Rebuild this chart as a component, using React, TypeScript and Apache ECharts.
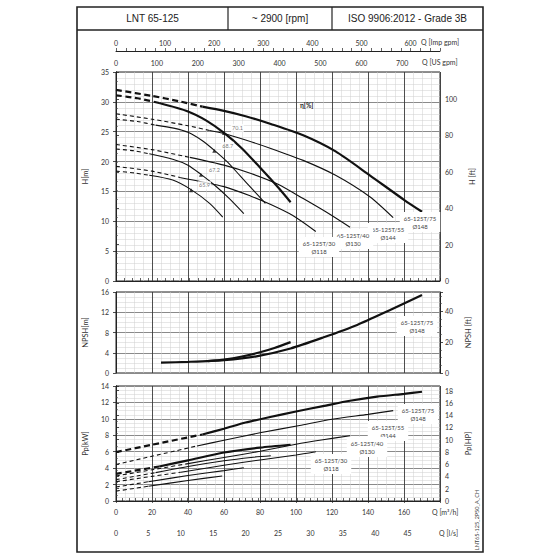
import React, { useEffect, useRef } from 'react';
import * as echarts from 'echarts';

// unit conversions (from m³/h, m, kW)
const M3H_TO_USGPM = 4.402868;
const M3H_TO_IMPGPM = 3.666154;
const M3H_TO_LS = 1 / 3.6;
const M_TO_FT = 3.28084;
const KW_TO_HP = 1.34102;
const Q_MAX = 180;

const headerTexts = ['LNT 65-125', '~ 2900 [rpm]', 'ISO 9906:2012 - Grade 3B'];
const models = ['65-125T/75', '65-125T/55', '65-125T/40', '65-125T/30'];
const diameters = ['Ø148', 'Ø144', 'Ø130', 'Ø118'];

// Head H [m] vs Q [m³/h] — long curves
const h148L_dash = [[0, 32.0], [20, 31.0], [35, 30.1], [48, 29.2]];
const h148L = [[48, 29.2], [60, 28.5], [72, 27.6], [86, 26.3], [104, 24.4], [122, 21.7], [141, 17.7], [160, 13.6], [170, 11.6]];
const h144L_dash = [[0, 28.0], [20, 27.1], [40, 26.0], [52, 25.2]];
const h144L = [[52, 25.2], [60, 24.7], [72, 23.6], [86, 22.2], [104, 20.2], [122, 17.7], [141, 14.1], [154, 10.6]];
const h130L_dash = [[0, 22.85], [20, 22.0], [41, 20.7]];
const h130L = [[41, 20.7], [60, 19.4], [75, 18.0], [90, 16.2], [104, 13.8], [117, 11.5], [130, 9.0]];
const h118L_dash = [[0, 19.2], [20, 18.4], [36, 17.3]];
const h118L = [[36, 17.3], [60, 15.8], [75, 14.2], [86, 12.8], [98, 11.0], [111, 8.3]];
// Head — short curves
const h148S_dash = [[0, 31.1], [12, 30.6], [24, 29.8]];
const h148S = [[24, 29.8], [40, 28.4], [50, 26.9], [60, 24.8], [70, 22.2], [80, 19.0], [90, 15.7], [97, 13.2]];
const h144S_dash = [[0, 27.1], [12, 26.7], [22, 26.1]];
const h144S = [[22, 26.1], [32, 25.6], [40, 24.9], [48, 23.5], [55, 21.8], [62, 19.9], [69, 17.6], [76, 15.3], [83, 13.0]];
const h130S_dash = [[0, 22.1], [10, 21.8], [18.5, 21.3]];
const h130S = [[18.5, 21.3], [31.5, 20.4], [40, 19.4], [47, 17.9], [55, 16.0], [63, 13.8], [71, 11.3]];
const h118S_dash = [[0, 18.4], [10, 18.1], [18.5, 17.7]];
const h118S = [[18.5, 17.7], [31.5, 16.9], [41.7, 15.3], [52, 13.0], [59.3, 10.7]];

// efficiency points (on short curves)
const effPoints = [[60, 24.8], [54.6, 21.8], [47.2, 17.8], [41.7, 15.2]];
const effValues = ['70.1', '68.7', '67.2', '65.9'];

// NPSH [m]
const npshL = [[25, 2.05], [40, 2.2], [60, 2.55], [78, 3.3], [97, 4.85], [115, 7.0], [134, 9.5], [152, 12.4], [170, 15.4]];
const npshS = [[51, 2.35], [60, 2.65], [70, 3.25], [80, 4.1], [88, 4.95], [97, 6.1]];

// Power Pp [kW]
const p148L_dash = [[0, 5.95], [20, 6.85], [48, 8.1]];
const p148L = [[48, 8.1], [60, 8.8], [72, 9.55], [85, 10.2], [100, 10.9], [115, 11.55], [130, 12.2], [145, 12.7], [160, 13.05], [170, 13.3]];
const p144L_dash = [[0, 4.45], [20, 5.45], [45, 6.7]];
const p144L = [[45, 6.7], [60, 7.4], [80, 8.3], [102, 9.2], [120, 9.95], [140, 10.55], [154, 11.0]];
const p130L_dash = [[0, 3.05], [20, 3.8], [40, 4.55]];
const p130L = [[40, 4.55], [60, 5.3], [80, 6.05], [100, 6.9], [115, 7.45], [130, 7.95]];
const p118L_dash = [[0, 2.35], [20, 3.0], [36, 3.5]];
const p118L = [[36, 3.5], [60, 4.35], [80, 5.0], [100, 5.6], [111, 6.0]];
const p148S_dash = [[0, 3.3], [12, 3.75], [24, 4.2]];
const p148S = [[24, 4.2], [40, 4.95], [60, 5.9], [80, 6.5], [97, 6.85]];
const p144S_dash = [[0, 2.6], [22, 3.45]];
const p144S = [[22, 3.45], [40, 4.2], [60, 4.9], [75, 5.3], [86, 5.5]];
const p130S_dash = [[0, 1.7], [18, 2.35]];
const p130S = [[18, 2.35], [40, 3.1], [60, 3.7], [71, 4.05]];
const p118S_dash = [[0, 1.2], [18, 1.8]];
const p118S = [[18, 1.8], [40, 2.5], [59, 3.05]];

const FONT = 'Lato, "Open Sans", sans-serif';
const INK = '#111';

const vMajor = { show: true, lineStyle: { color: '#3a3a3a', width: 0.9 } };
const hMajor = { show: true, lineStyle: { color: '#8a8a8a', width: 1.2 } };
const minorLine = { show: true, lineStyle: { color: '#cfcfcf', width: 0.5 } };
const axisLineStyle = { show: true, lineStyle: { color: '#222', width: 1 } };
const lbl = { fontSize: 7, color: '#333', fontFamily: FONT };

function curve(data: number[][], xi: number, yi: number, thick: boolean, dashed: boolean) {
  return {
    type: 'line',
    xAxisIndex: xi,
    yAxisIndex: yi,
    data,
    symbol: 'none',
    smooth: 0.25,
    silent: true,
    z: 5,
    lineStyle: {
      color: INK,
      width: thick ? 2.2 : 1.1,
      type: dashed ? (thick ? [6, 3.5] : [4, 3]) : 'solid',
      cap: 'butt',
    },
  };
}

const isMult = (v: number, m: number) => Math.abs(v / m - Math.round(v / m)) < 1e-6;

function qAxisHidden(gridIndex: number) {
  return {
    gridIndex,
    type: 'value',
    min: 0,
    max: Q_MAX,
    interval: 20,
    axisLine: { show: false },
    axisTick: { show: false },
    axisLabel: { show: false },
    splitLine: vMajor,
    minorTick: { show: false, splitNumber: 4 },
    minorSplitLine: minorLine,
  };
}

function leftY(gridIndex: number, max: number, interval: number, minorSplit: number, name: string) {
  return {
    gridIndex,
    type: 'value',
    position: 'left',
    min: 0,
    max,
    interval,
    name,
    nameLocation: 'middle',
    nameGap: 19,
    nameTextStyle: { fontSize: 7.5, color: '#333', fontFamily: FONT },
    axisLine: axisLineStyle,
    axisTick: { show: true, length: 3, lineStyle: { color: '#222', width: 0.8 } },
    axisLabel: { ...lbl, margin: 7 },
    splitLine: hMajor,
    minorTick: { show: false, splitNumber: minorSplit },
    minorSplitLine: minorLine,
  };
}

function rightY(gridIndex: number, max: number, interval: number, labelStep: number, minorSplit: number, name: string) {
  return {
    gridIndex,
    type: 'value',
    position: 'right',
    min: 0,
    max,
    interval,
    name,
    nameLocation: 'middle',
    nameGap: 17,
    nameTextStyle: { fontSize: 7.5, color: '#333', fontFamily: FONT },
    axisLine: axisLineStyle,
    axisTick: { show: true, length: 3, lineStyle: { color: '#222', width: 0.8 } },
    minorTick: { show: true, splitNumber: minorSplit, length: 2, lineStyle: { color: '#444', width: 0.6 } },
    axisLabel: { ...lbl, margin: 5, formatter: (v: number) => (isMult(v, labelStep) ? String(Math.round(v)) : '') },
    splitLine: { show: false },
  };
}

function labelBox(x: number, y: number, text: string) {
  return {
    type: 'text',
    x,
    y,
    z: 100,
    style: {
      text,
      fontSize: 6,
      lineHeight: 8,
      fontFamily: FONT,
      fill: '#444',
      align: 'center',
      verticalAlign: 'middle',
      backgroundColor: '#ffffff',
      padding: [2, 4],
    },
  };
}

function plainText(x: number, y: number, text: string, extra: any = {}) {
  return {
    type: 'text',
    x,
    y,
    z: 100,
    style: { text, fontSize: 7, fontFamily: FONT, fill: '#333', align: 'left', verticalAlign: 'middle', ...extra },
  };
}

export default function App() {
  const ref = useRef<HTMLDivElement>(null);

  useEffect(() => {
    if (!ref.current) return;
    const chart = echarts.init(ref.current, null, { renderer: 'svg' });

    const gridStyle = { show: true, borderColor: '#222', borderWidth: 1, backgroundColor: 'transparent' };

    const series: any[] = [
      // H long
      curve(h148L_dash, 0, 0, true, true), curve(h148L, 0, 0, true, false),
      curve(h144L_dash, 0, 0, false, true), curve(h144L, 0, 0, false, false),
      curve(h130L_dash, 0, 0, false, true), curve(h130L, 0, 0, false, false),
      curve(h118L_dash, 0, 0, false, true), curve(h118L, 0, 0, false, false),
      // H short
      curve(h148S_dash, 0, 0, true, true), curve(h148S, 0, 0, true, false),
      curve(h144S_dash, 0, 0, false, true), curve(h144S, 0, 0, false, false),
      curve(h130S_dash, 0, 0, false, true), curve(h130S, 0, 0, false, false),
      curve(h118S_dash, 0, 0, false, true), curve(h118S, 0, 0, false, false),
      {
        type: 'scatter',
        xAxisIndex: 0,
        yAxisIndex: 0,
        data: effPoints,
        symbol: 'triangle',
        symbolSize: 4,
        z: 6,
        silent: true,
        itemStyle: { color: INK },
        label: {
          show: true,
          formatter: (p: any) => effValues[p.dataIndex],
          position: 'right',
          distance: 4,
          offset: [1, -5],
          fontSize: 5.5,
          color: '#555',
          fontFamily: FONT,
          backgroundColor: '#fff',
          padding: [1, 1],
        },
      },
      // NPSH
      curve(npshL, 3, 2, true, false),
      curve(npshS, 3, 2, true, false),
      // Power
      curve(p148L_dash, 4, 4, true, true), curve(p148L, 4, 4, true, false),
      curve(p144L_dash, 4, 4, false, true), curve(p144L, 4, 4, false, false),
      curve(p130L_dash, 4, 4, false, true), curve(p130L, 4, 4, false, false),
      curve(p118L_dash, 4, 4, false, true), curve(p118L, 4, 4, false, false),
      curve(p148S_dash, 4, 4, true, true), curve(p148S, 4, 4, true, false),
      curve(p144S_dash, 4, 4, false, true), curve(p144S, 4, 4, false, false),
      curve(p130S_dash, 4, 4, false, true), curve(p130S, 4, 4, false, false),
      curve(p118S_dash, 4, 4, false, true), curve(p118S, 4, 4, false, false),
    ];

    const hLabelPos = [[420, 222], [388, 233], [353, 239], [319, 247]];
    const pLabelPos = [[418, 414], [388, 431], [367, 447], [331, 464]];

    const graphic: any[] = [
      { type: 'rect', z: 100, shape: { x: 77, y: 7, width: 406, height: 545 }, style: { fill: 'none', stroke: '#222', lineWidth: 1.6 } },
      { type: 'line', z: 100, shape: { x1: 77, y1: 30, x2: 483, y2: 30 }, style: { stroke: '#222', lineWidth: 1.4 } },
      { type: 'line', z: 100, shape: { x1: 228, y1: 7, x2: 228, y2: 30 }, style: { stroke: '#222', lineWidth: 1.2 } },
      { type: 'line', z: 100, shape: { x1: 332, y1: 7, x2: 332, y2: 30 }, style: { stroke: '#222', lineWidth: 1.2 } },
      ...headerTexts.map((t, i) => ({
        type: 'text',
        z: 100,
        x: [152.5, 280, 407.5][i],
        y: 18.5,
        style: { text: t, fontSize: 10, fontFamily: '"Liberation Sans", Arial, sans-serif', fill: '#222', align: 'center', verticalAlign: 'middle' },
      })),
      plainText(421, 42, 'Q [Imp gpm]'),
      plainText(422, 62, 'Q [US gpm]'),
      plainText(432, 511.5, 'Q [m³/h]'),
      plainText(439, 533, 'Q [l/s]'),
      plainText(300, 105, 'η[%]', { fontWeight: 'bold', fontSize: 6.5, fill: '#222' }),
      ...models.map((m, i) => labelBox(hLabelPos[i][0], hLabelPos[i][1], m + '\n' + diameters[i])),
      ...models.map((m, i) => labelBox(pLabelPos[i][0], pLabelPos[i][1], m + '\n' + diameters[i])),
      labelBox(417, 326, models[0] + '\n' + diameters[0]),
      {
        type: 'text',
        z: 100,
        x: 477,
        y: 520,
        rotation: Math.PI / 2,
        style: { text: 'LNT65-125_2P50_A_CH', fontSize: 5.5, fontFamily: FONT, fill: '#444', align: 'center', verticalAlign: 'middle' },
      },
    ];

    const option: any = {
      animation: false,
      backgroundColor: '#ffffff',
      grid: [
        { left: 116, top: 72, width: 324, height: 209, ...gridStyle },
        { left: 116, top: 292, width: 324, height: 81, ...gridStyle },
        { left: 116, top: 386, width: 324, height: 115, ...gridStyle },
      ],
      xAxis: [
        qAxisHidden(0),
        {
          gridIndex: 0,
          type: 'value',
          position: 'top',
          min: 0,
          max: Q_MAX * M3H_TO_USGPM,
          interval: 20,
          axisLine: axisLineStyle,
          axisTick: { show: true, length: 3, lineStyle: { color: '#222', width: 0.7 } },
          axisLabel: { ...lbl, margin: 6, formatter: (v: number) => (isMult(v, 100) ? String(Math.round(v)) : '') },
          splitLine: { show: false },
        },
        {
          gridIndex: 0,
          type: 'value',
          position: 'top',
          offset: 21,
          min: 0,
          max: Q_MAX * M3H_TO_IMPGPM,
          interval: 20,
          axisLine: axisLineStyle,
          axisTick: { show: true, length: 3, lineStyle: { color: '#222', width: 0.7 } },
          axisLabel: { ...lbl, margin: 5, formatter: (v: number) => (isMult(v, 100) ? String(Math.round(v)) : '') },
          splitLine: { show: false },
        },
        qAxisHidden(1),
        {
          ...qAxisHidden(2),
          axisLabel: { ...lbl, show: true, margin: 7, formatter: (v: number) => (v < Q_MAX - 1e-6 ? String(v) : '') },
          axisTick: { show: true, length: 2, lineStyle: { color: '#222', width: 0.7 } },
        },
        {
          gridIndex: 2,
          type: 'value',
          position: 'bottom',
          offset: 22,
          min: 0,
          max: Q_MAX * M3H_TO_LS,
          interval: 1,
          axisLine: axisLineStyle,
          axisTick: { show: true, inside: true, length: 3, lineStyle: { color: '#222', width: 0.7 } },
          axisLabel: { ...lbl, margin: 6, formatter: (v: number) => (isMult(v, 5) && v < 49.9 ? String(Math.round(v)) : '') },
          splitLine: { show: false },
        },
      ],
      yAxis: [
        leftY(0, 35, 5, 5, 'H[m]'),
        rightY(0, 35 * M_TO_FT, 20, 20, 4, 'H [ft]'),
        leftY(1, 16, 4, 4, 'NPSH[m]'),
        rightY(1, 16 * M_TO_FT, 20, 20, 4, 'NPSH [ft]'),
        leftY(2, 14, 2, 4, 'Pp[kW]'),
        rightY(2, 14 * KW_TO_HP, 2, 2, 2, 'Pp[HP]'),
      ],
      series,
      graphic,
    };

    chart.setOption(option);
    return () => chart.dispose();
  }, []);

  return (
    <div
      ref={ref}
      style={{ position: 'fixed', left: 0, top: 0, width: 559, height: 560, background: '#fff' }}
    />
  );
}
